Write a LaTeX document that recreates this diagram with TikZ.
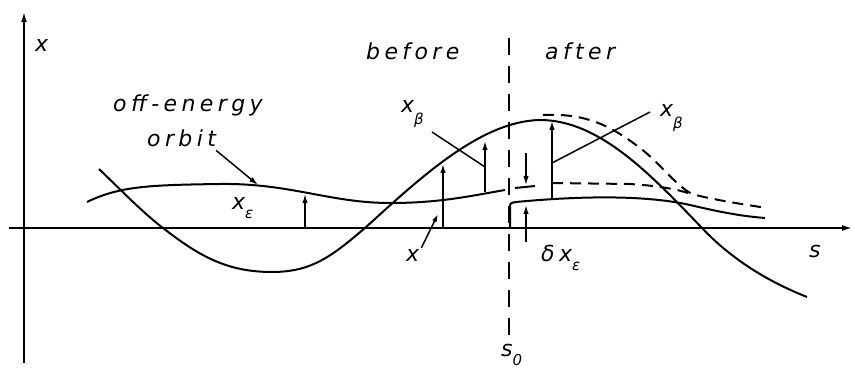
\documentclass[tikz,border=0pt]{standalone}
\usepackage{fontspec}
\setmainfont{DejaVu Sans}[LetterSpace=20]
\usetikzlibrary{arrows.meta}

\tikzset{
  lbl/.style={font=\fontsize{22}{26}\selectfont\itshape, inner sep=0pt, anchor=base west},
  curve/.style={line width=2pt, line join=round},
  oldcurve/.style={curve, dash pattern=on 11pt off 7pt},
  pin/.style={line width=1.5pt},
  arr/.style={line width=1.5pt, -{Latex[length=9pt,width=5.5pt]}},
}
\newcommand{\lowsub}[2][-10pt]{\raisebox{#1}{\fontsize{15}{17}\selectfont #2}}

\begin{document}
\begin{tikzpicture}[x=1pt, y=-1pt]
  \useasboundingbox (0,0) rectangle (855,371);

  % axes
  \draw[line width=1.6pt, -{Latex[length=10pt,width=6pt]}] (24,363) -- (24,12);
  \draw[line width=1.6pt, -{Latex[length=10pt,width=6pt]}] (9,228) -- (852,228);
  \node[lbl] (xaxis) at (35,52) {x};
  \node[lbl] (saxis) at (809,258) {s};

  % s0 line
  \draw[line width=1.8pt, dash pattern=on 17pt off 11pt] (509,38) -- (509,340);
  \node[lbl] (s0) at (501,357) {s\lowsub[-9pt]{0}};
  \node[lbl] (before) at (366,60) {before};
  \node[lbl] (after) at (545,60) {after};

  % betatron oscillation
  \draw[curve] (99,169) .. controls (120,189) and (142,212) .. (163,228)
    .. controls (199,256) and (227,272) .. (272,272)
    .. controls (312,272) and (332,256) .. (365,228)
    .. controls (418,180) and (480,121) .. (540,120)
    .. controls (600,120) and (652,176) .. (702,228)
    .. controls (737,265) and (777,285) .. (807,297);

  % off-energy orbit before s0
  \draw[curve] (87,202) .. controls (120,186) and (150,185) .. (220,184)
    .. controls (290,183) and (330,203) .. (390,203)
    .. controls (440,203) and (470,196) .. (505,190);
  \draw[curve] (515,188) -- (535,186);

  % orbit and oscillation after s0
  \draw[curve] (510,228) -- (510,208) .. controls (510,203) .. (516,202)
    .. controls (590,195) and (650,196) .. (690,205)
    .. controls (720,212) and (740,216) .. (765,218);
  \draw[oldcurve] (552,183) -- (630,184) .. controls (660,186) and (675,189) .. (688,193);
  \draw[oldcurve] (543,115) .. controls (585,113) and (610,125) .. (640,148)
    .. controls (660,163) and (675,185) .. (692,194)
    .. controls (710,199) and (740,204) .. (767,208);

  % amplitudes
  \coordinate (xe0) at (305,228);   \coordinate (xe1) at (305,194);
  \coordinate (xx0) at (443,228);   \coordinate (xx1) at (443,164);
  \coordinate (xb0) at (485,192);   \coordinate (xb1) at (485,141);
  \coordinate (xa0) at (552,198);   \coordinate (xa1) at (552,121);
  \coordinate (dd0) at (526,153);   \coordinate (dd1) at (526,185);
  \coordinate (du0) at (526,242);   \coordinate (du1) at (526,205);
  \draw[arr] (xe0) -- (xe1);
  \draw[arr] (xx0) -- (xx1);
  \draw[arr] (xb0) -- (xb1);
  \draw[arr] (xa0) -- (xa1);
  \draw[arr] (dd0) -- (dd1);
  \draw[arr] (du0) -- (du1);

  % labels and pointers
  \node[lbl] (offe) at (113,112) {off-energy};
  \node[lbl] (orbit) at (147,147) {orbit};
  \coordinate (orbtip) at (258,185);
  \draw[pin, -{Latex[length=9pt,width=5.5pt]}] (orbit.south east) ++(0,3) -- (orbtip);
  \node[lbl] (xeps) at (232,210) {x\lowsub[-9pt]{ε}};
  \node[lbl] (xlow) at (406,262) {x};
  \coordinate (xtip) at (438,214);
  \draw[pin, -{Latex[length=8pt,width=5pt]}] (xlow.north east) ++(2,-2) -- (xtip);
  \node[lbl] (xbl) at (401,113) {x\lowsub[-12pt]{β}};
  \coordinate (xbl1) at (485,167);
  \draw[pin] (432,132) -- (xbl1);
  \node[lbl] (xbr) at (660,117) {x\lowsub[-12pt]{β}};
  \coordinate (xbr0) at (552,163);
  \draw[pin] (xbr0) -- (650,112);
  \node[lbl] (dxe) at (541,262) {δx\lowsub[-9pt]{ε}};
\end{tikzpicture}
\end{document}
